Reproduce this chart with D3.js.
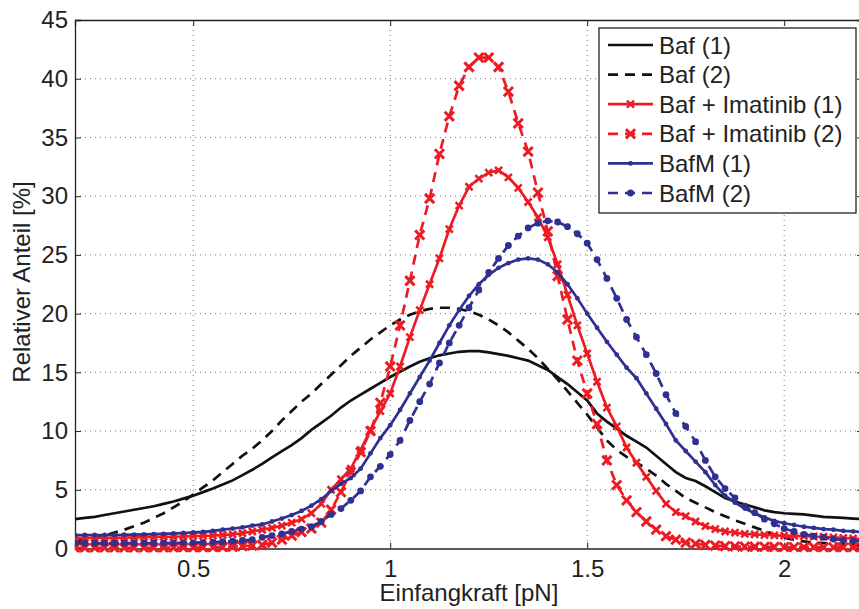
<!DOCTYPE html>
<html>
<head>
<meta charset="utf-8">
<script src="https://cdn.jsdelivr.net/npm/d3@7"></script>
<style>
  body { margin: 0; background: #fff; }
  text { font-family: "Liberation Sans", Arial, sans-serif; fill: #222; }
</style>
</head>
<body>
<svg id="chart" width="859" height="609"></svg>
<script>
const xs = [0.2,0.225,0.25,0.275,0.3,0.325,0.35,0.375,0.4,0.425,0.45,0.475,0.5,0.525,0.55,0.575,0.6,0.625,0.65,0.675,
  0.7,0.725,0.75,0.775,0.8,0.825,0.85,0.875,0.9,0.925,0.95,0.975,1.0,1.025,1.05,1.075,1.1,1.125,1.15,1.175,
  1.2,1.225,1.25,1.275,1.3,1.325,1.35,1.375,1.4,1.425,1.45,1.475,1.5,1.525,1.55,1.575,1.6,1.625,1.65,1.675,
  1.7,1.725,1.75,1.775,1.8,1.825,1.85,1.875,1.9,1.925,1.95,1.975,2.0,2.025,2.05,2.075,2.1,2.125,2.15,2.175,2.2];

const baf1 = [2.5,2.6,2.7,2.85,3.0,3.15,3.3,3.45,3.6,3.8,4.0,4.25,4.5,4.8,5.1,5.45,5.8,6.25,6.7,7.2,
  7.75,8.3,8.8,9.4,10.1,10.7,11.3,12.0,12.6,13.1,13.6,14.1,14.6,15.05,15.5,15.9,16.2,16.45,16.6,16.75,
  16.8,16.8,16.7,16.55,16.4,16.2,16.0,15.6,15.2,14.6,14.0,13.3,12.6,11.5,10.8,10.2,9.6,9.1,8.6,7.9,
  7.2,6.5,6.0,5.75,5.3,4.8,4.3,4.0,3.75,3.5,3.25,3.1,3.0,2.95,2.9,2.8,2.7,2.65,2.6,2.55,2.5];

const baf2 = [0.6,0.75,0.9,1.1,1.35,1.6,1.9,2.2,2.6,3.0,3.5,4.0,4.6,5.2,5.8,6.5,7.2,7.9,8.5,9.2,
  10.0,10.9,11.7,12.5,13.2,14.0,14.8,15.6,16.4,17.1,17.8,18.4,19.0,19.5,19.9,20.2,20.4,20.5,20.5,20.4,
  20.2,19.9,19.5,19.0,18.4,17.7,17.0,16.2,15.3,14.4,13.4,12.4,11.4,10.3,9.2,8.4,7.8,7.3,6.8,6.2,
  5.5,4.9,4.3,3.9,3.5,3.1,2.75,2.4,2.1,1.8,1.5,1.2,0.9,0.75,0.6,0.5,0.45,0.4,0.35,0.3,0.3];

const imat1 = [0.9,0.9,0.9,0.9,0.9,0.92,0.94,0.96,0.98,1.0,1.0,1.02,1.05,1.08,1.1,1.15,1.2,1.3,1.45,1.6,
  1.75,1.95,2.2,2.5,3.0,3.8,5.0,5.9,6.8,8.4,10.1,11.7,13.2,15.5,18.0,20.3,22.5,24.7,27.2,29.2,
  30.8,31.5,32.0,32.2,31.6,30.7,29.5,28.2,26.5,24.2,21.6,19.0,16.6,14.2,12.0,10.4,8.6,7.3,6.1,4.9,
  3.8,3.1,2.75,2.3,1.9,1.65,1.45,1.35,1.25,1.2,1.15,1.12,1.1,1.08,1.06,1.02,1.0,0.95,0.9,0.85,0.8];

const imat2 = [0.05,0.05,0.05,0.05,0.05,0.05,0.05,0.05,0.06,0.06,0.07,0.08,0.08,0.09,0.1,0.12,0.15,0.2,0.25,0.3,
  0.5,0.75,1.1,1.4,1.7,2.2,3.3,4.8,6.5,8.2,10.0,12.4,15.5,19.0,22.8,26.7,29.8,33.6,36.8,39.4,
  41.0,41.8,41.8,41.0,38.9,36.2,33.8,30.3,27.0,23.2,19.5,16.0,13.2,10.6,7.5,5.4,4.1,3.1,2.3,1.6,
  1.05,0.75,0.5,0.4,0.3,0.25,0.2,0.18,0.16,0.15,0.14,0.13,0.12,0.12,0.11,0.11,0.1,0.1,0.1,0.1,0.1];

const bafm1 = [1.15,1.15,1.15,1.15,1.15,1.17,1.18,1.2,1.22,1.25,1.28,1.32,1.37,1.42,1.5,1.6,1.7,1.8,1.95,2.05,
  2.3,2.55,2.85,3.2,3.65,4.2,4.9,5.5,6.0,6.8,8.1,9.4,10.5,11.8,13.2,14.6,16.0,17.5,19.0,20.3,
  21.5,22.5,23.3,23.9,24.3,24.6,24.7,24.6,24.2,23.5,22.5,21.3,20.0,18.8,17.6,16.5,15.4,14.5,13.2,11.9,
  10.6,9.2,8.3,7.4,6.5,5.4,4.5,3.9,3.4,3.0,2.65,2.35,2.15,2.0,1.85,1.75,1.65,1.6,1.5,1.45,1.4];

const bafm2 = [0.45,0.45,0.45,0.45,0.45,0.45,0.46,0.46,0.47,0.47,0.48,0.49,0.5,0.52,0.55,0.58,0.62,0.68,0.75,0.95,
  1.1,1.25,1.45,1.65,1.85,2.3,2.9,3.4,4.1,4.9,6.1,7.0,8.0,9.2,10.9,12.5,14.0,15.8,17.5,19.0,
  20.5,22.0,23.5,24.7,25.8,26.6,27.3,27.7,27.9,27.8,27.4,26.8,26.0,24.6,23.0,21.3,19.5,18.0,16.5,14.9,
  13.1,11.5,10.4,9.1,7.5,6.1,5.1,4.3,3.6,3.05,2.5,2.1,1.7,1.45,1.2,1.05,0.95,0.8,0.7,0.65,0.6];

const labels = ['Baf (1)', 'Baf (2)', 'Baf + Imatinib (1)', 'Baf + Imatinib (2)', 'BafM (1)', 'BafM (2)'];
const xTicks = [0.5, 1, 1.5, 2];
const yTicks = [0, 5, 10, 15, 20, 25, 30, 35, 40, 45];

const red = '#ed1c24', blue = '#2e3192', black = '#111';
const series = [
  {name: labels[0], y: baf1, color: black, dash: null, marker: null},
  {name: labels[1], y: baf2, color: black, dash: '10,7', marker: null},
  {name: labels[2], y: imat1, color: red, dash: null, marker: 'x'},
  {name: labels[3], y: imat2, color: red, dash: '10,7', marker: 'bigx'},
  {name: labels[4], y: bafm1, color: blue, dash: null, marker: 'dot'},
  {name: labels[5], y: bafm2, color: blue, dash: '10,7', marker: 'bigdot'}
];

const svg = d3.select('#chart');
const m = {left: 75, top: 20, right: 863, bottom: 548.5};
const fs = 24;

const x = d3.scaleLinear().domain([0.2, 2.2]).range([m.left, m.right]);
const y = d3.scaleLinear().domain([0, 45]).range([m.bottom, m.top]);

svg.append('defs').append('clipPath').attr('id', 'plot')
  .append('rect').attr('x', m.left).attr('y', m.top - 4)
  .attr('width', m.right - m.left).attr('height', m.bottom - m.top + 8);

// grid
const grid = svg.append('g').attr('stroke', '#777').attr('stroke-width', 1).attr('stroke-dasharray', '1,4');
grid.selectAll('.gx').data(xTicks).join('line')
  .attr('x1', d => x(d)).attr('x2', d => x(d)).attr('y1', m.top).attr('y2', m.bottom);
grid.selectAll('.gy').data(yTicks.slice(1, -1)).join('line')
  .attr('x1', m.left).attr('x2', m.right).attr('y1', d => y(d)).attr('y2', d => y(d));

// axes (inward ticks, box)
const aX = d3.axisBottom(x).tickValues(xTicks).tickSize(-6).tickPadding(11).tickFormat(d3.format('~g'));
const aY = d3.axisLeft(y).tickValues(yTicks).tickSize(-6).tickPadding(7);

svg.append('g').attr('transform', `translate(0,${m.bottom})`).call(aX);
svg.append('g').attr('transform', `translate(${m.left},0)`).call(aY);
svg.append('g').attr('transform', `translate(0,${m.top})`)
  .call(d3.axisTop(x).tickValues(xTicks).tickSize(-6).tickFormat(''));
svg.append('g').attr('transform', `translate(${m.right},0)`)
  .call(d3.axisRight(y).tickValues(yTicks).tickSize(-6).tickFormat(''));

svg.selectAll('.domain').attr('stroke', '#222').attr('stroke-width', 1.3);
svg.selectAll('.tick line').attr('stroke', '#222');
svg.selectAll('.tick text').attr('font-size', fs).attr('fill', '#222');

// curves
const line = d3.line().x((d, i) => x(xs[i])).y(d => y(d));
const plot = svg.append('g').attr('clip-path', 'url(#plot)');

function drawMarker(g, kind, color, cx, cy) {
  if (kind === 'x' || kind === 'bigx') {
    const s = kind === 'bigx' ? 4.6 : 3.5;
    g.append('path')
      .attr('d', `M${cx - s},${cy - s}L${cx + s},${cy + s}M${cx - s},${cy + s}L${cx + s},${cy - s}`)
      .attr('stroke', color).attr('stroke-width', kind === 'bigx' ? 3 : 2.6).attr('fill', 'none');
  } else if (kind) {
    g.append('circle').attr('cx', cx).attr('cy', cy).attr('r', kind === 'bigdot' ? 3.4 : 2.4).attr('fill', color);
  }
}

series.forEach(s => {
  plot.append('path')
    .datum(s.y)
    .attr('d', line)
    .attr('fill', 'none')
    .attr('stroke', s.color)
    .attr('stroke-width', 2.7)
    .attr('stroke-dasharray', s.dash);
  if (s.marker) {
    const mg = plot.append('g');
    s.y.forEach((v, i) => drawMarker(mg, s.marker, s.color, x(xs[i]), y(v)));
  }
});

// legend
const lg = svg.append('g');
lg.append('rect').attr('x', 599).attr('y', 28).attr('width', 257).attr('height', 185)
  .attr('fill', '#fff').attr('stroke', '#222').attr('stroke-width', 1.3);
series.forEach((s, i) => {
  const ly = 45 + i * 29.6;
  lg.append('line').attr('x1', 608).attr('x2', 653).attr('y1', ly).attr('y2', ly)
    .attr('stroke', s.color).attr('stroke-width', 2.7).attr('stroke-dasharray', s.dash);
  drawMarker(lg, s.marker, s.color, 630.5, ly);
  lg.append('text').attr('x', 659).attr('y', ly + 8.5).attr('font-size', fs).text(s.name);
});

// axis labels
svg.append('text').attr('x', 469).attr('y', 601).attr('text-anchor', 'middle')
  .attr('font-size', fs).text('Einfangkraft [pN]');
svg.append('text').attr('transform', 'translate(30,282) rotate(-90)').attr('text-anchor', 'middle')
  .attr('font-size', fs).text('Relativer Anteil [%]');
</script>
</body>
</html>
